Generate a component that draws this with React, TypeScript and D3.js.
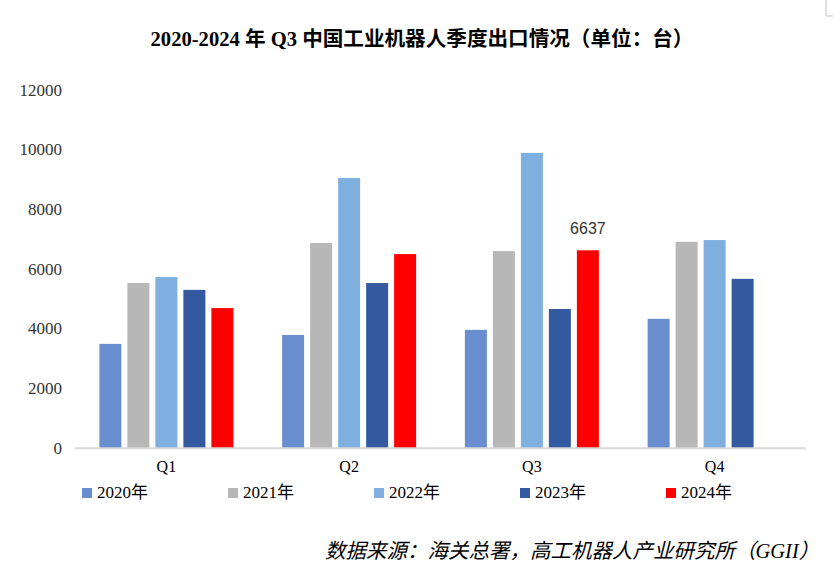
import React from "react";
import * as d3 from "d3";

const quarters = ["Q1", "Q2", "Q3", "Q4"];
const years = ["2020年", "2021年", "2022年", "2023年", "2024年"];
const values2020 = [3500, 3800, 3970, 4340];
const values2021 = [5540, 6880, 6610, 6920];
const values2022 = [5740, 9060, 9900, 6980];
const values2023 = [5310, 5540, 4670, 5680];
const values2024: (number | null)[] = [4700, 6510, 6637, null];
const seriesValues = [values2020, values2021, values2022, values2023, values2024];
const colors = ["#698ED0", "#B7B7B7", "#7EAFDF", "#335AA1", "#FF0000"];
const yTicks = [0, 2000, 4000, 6000, 8000, 10000, 12000];
const labelled = { series: 4, quarter: 2 };

const title = "2020-2024 年 Q3 中国工业机器人季度出口情况（单位：台）";
const source = "数据来源：海关总署，高工机器人产业研究所（GGII）";

const W = 833;
const H = 575;
const plotLeft = 75;
const plotRight = 806;
const plotBottom = 448.3;
const plotTop = 90.3;

const serif = "'Liberation Serif', 'Times New Roman', 'Noto Sans CJK SC', serif";
const sans = "'Liberation Sans', Arial, 'Noto Sans CJK SC', sans-serif";

export default function App() {
  const x0 = d3.scaleBand<string>().domain(quarters).range([plotLeft, plotRight]).paddingInner(0).paddingOuter(0);
  const groupW = 134;
  const groupOff = (x0.bandwidth() - groupW) / 2;
  const x1 = d3.scaleBand<string>().domain(years).range([0, groupW]).paddingInner(6 / 28).paddingOuter(0);
  const y = d3.scaleLinear().domain([0, 12000]).range([plotBottom, plotTop]);

  const legendX = d3.scaleLinear().domain([0, 1]).range([82, 228]);

  return (
    <svg width={W} height={H} style={{ position: "fixed", left: 0, top: 0, background: "#fff" }}>
      <rect x={0} y={0} width={W} height={H} fill="#fff" />
      <path d="M826,0 V16 H833" fill="none" stroke="#BFBFBF" strokeWidth={1} />
      <text x={422} y={41} textAnchor="middle" dominantBaseline="middle" fontFamily={serif} fontWeight="bold" fontSize={20.6} fill="#000">
        {title}
      </text>
      {yTicks.map((t) => (
        <text key={t} x={62} y={y(t) + 1.5} textAnchor="end" dominantBaseline="middle" fontFamily={serif} fontSize={17} fill="#333">
          {t}
        </text>
      ))}
      {seriesValues.map((vals, si) =>
        vals.map((v, qi) =>
          v == null ? null : (
            <rect
              key={`${si}-${qi}`}
              x={(x0(quarters[qi]) as number) + groupOff + (x1(years[si]) as number)}
              y={y(v)}
              width={x1.bandwidth()}
              height={plotBottom - y(v)}
              fill={colors[si]}
            />
          )
        )
      )}
      <line x1={plotLeft} x2={plotRight} y1={plotBottom} y2={plotBottom} stroke="#D9D9D9" strokeWidth={2} />
      {(() => {
        const v = seriesValues[labelled.series][labelled.quarter] as number;
        const cx = (x0(quarters[labelled.quarter]) as number) + groupOff + (x1(years[labelled.series]) as number) + x1.bandwidth() / 2;
        return (
          <text x={cx} y={y(v) - 21} textAnchor="middle" dominantBaseline="middle" fontFamily={sans} fontSize={16} fill="#333">
            {v}
          </text>
        );
      })()}
      {quarters.map((q) => (
        <text key={q} x={(x0(q) as number) + x0.bandwidth() / 2} y={468} textAnchor="middle" dominantBaseline="middle" fontFamily={serif} fontSize={16} fill="#000">
          {q}
        </text>
      ))}
      {years.map((yr, i) => (
        <g key={yr} transform={`translate(${legendX(i)},0)`}>
          <rect x={0} y={488} width={10} height={10} fill={colors[i]} />
          <text x={15} y={494} dominantBaseline="middle" fontFamily={serif} fontSize={17} fill="#000">
            {yr}
          </text>
        </g>
      ))}
      <text x={325} y={553} dominantBaseline="middle" fontFamily={serif} fontStyle="italic" fontSize={20.5} fill="#000">
        {source}
      </text>
    </svg>
  );
}
